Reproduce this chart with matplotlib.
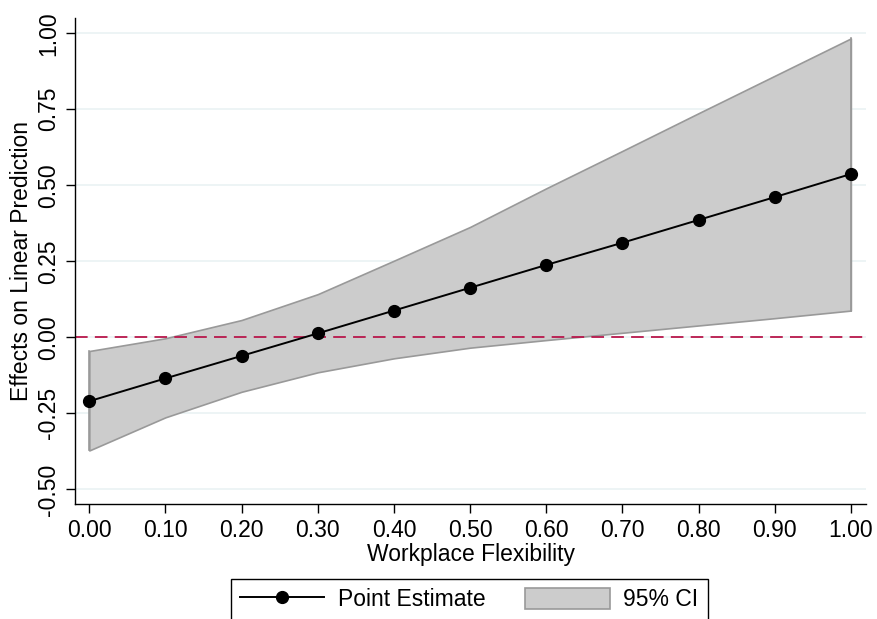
import matplotlib
matplotlib.use("Agg")
import matplotlib.pyplot as plt
import numpy as np

plt.rcParams["font.family"] = ["Liberation Sans", "DejaVu Sans"]

# values
flex = [0.0, 0.1, 0.2, 0.3, 0.4, 0.5, 0.6, 0.7, 0.8, 0.9, 1.0]
estimate = [-0.210, -0.135, -0.061, 0.013, 0.088, 0.163, 0.238, 0.311, 0.386, 0.461, 0.537]
ci_upper = [-0.045, -0.003, 0.057, 0.142, 0.252, 0.363, 0.490, 0.613, 0.737, 0.860, 0.983]
ci_lower = [-0.372, -0.263, -0.179, -0.115, -0.069, -0.034, -0.009, 0.015, 0.039, 0.063, 0.088]

x_ticks = [0.0, 0.1, 0.2, 0.3, 0.4, 0.5, 0.6, 0.7, 0.8, 0.9, 1.0]
y_ticks = [-0.50, -0.25, 0.00, 0.25, 0.50, 0.75, 1.00]

fs = 16.5

fig = plt.figure(figsize=(8.77, 6.19), dpi=100)
ax = fig.add_axes([0.0855, 0.1858, 0.902, 0.7851])

for yt in y_ticks:
    ax.axhline(yt, color="#eaf2f3", lw=1.2, zorder=0)

ci = ax.fill_between(flex, ci_lower, ci_upper, facecolor="#cccccc", edgecolor="#999999",
                     lw=1.2, zorder=1, label="95% CI")
ax.plot([flex[0], flex[0]], [ci_lower[0], ci_upper[0]], color="#999999", lw=1.2, zorder=1)
ax.plot([flex[-1], flex[-1]], [ci_lower[-1], ci_upper[-1]], color="#999999", lw=1.2, zorder=1)

ax.axhline(0, color="#b8174b", lw=1.3, dashes=(7, 4), zorder=2)

pt, = ax.plot(flex, estimate, color="black", lw=1.4, marker="o", ms=8.5, zorder=3,
              label="Point Estimate")

ax.set_xlim(-0.0188, 1.0199)
ax.set_ylim(-0.548, 1.050)
ax.set_xticks(x_ticks)
ax.set_xticklabels(["%.2f" % v for v in x_ticks], fontsize=fs)
ax.set_yticks(y_ticks)
ax.set_yticklabels(["%.2f" % v for v in y_ticks], fontsize=fs, rotation=90, va="center")
ax.tick_params(direction="out", length=6.5, width=1, pad=4)

for side in ["top", "right"]:
    ax.spines[side].set_visible(False)
for side in ["left", "bottom"]:
    ax.spines[side].set_linewidth(1)

ax.set_xlabel("Workplace Flexibility", fontsize=fs, labelpad=1)
ax.set_ylabel("Effects on Linear Prediction", fontsize=fs, labelpad=3)

leg = fig.legend([pt, ci], ["Point Estimate", "95% CI"], ncol=2, loc="upper left",
                 bbox_to_anchor=(230.5 / 877, 1 - 579 / 619), fontsize=fs,
                 frameon=True, fancybox=False, edgecolor="black", framealpha=1,
                 handlelength=3.7, handleheight=1.0, handletextpad=0.6,
                 columnspacing=1.7, borderpad=0.4, borderaxespad=0)
leg.get_frame().set_linewidth(1)

fig.savefig("out.png", dpi=100)
